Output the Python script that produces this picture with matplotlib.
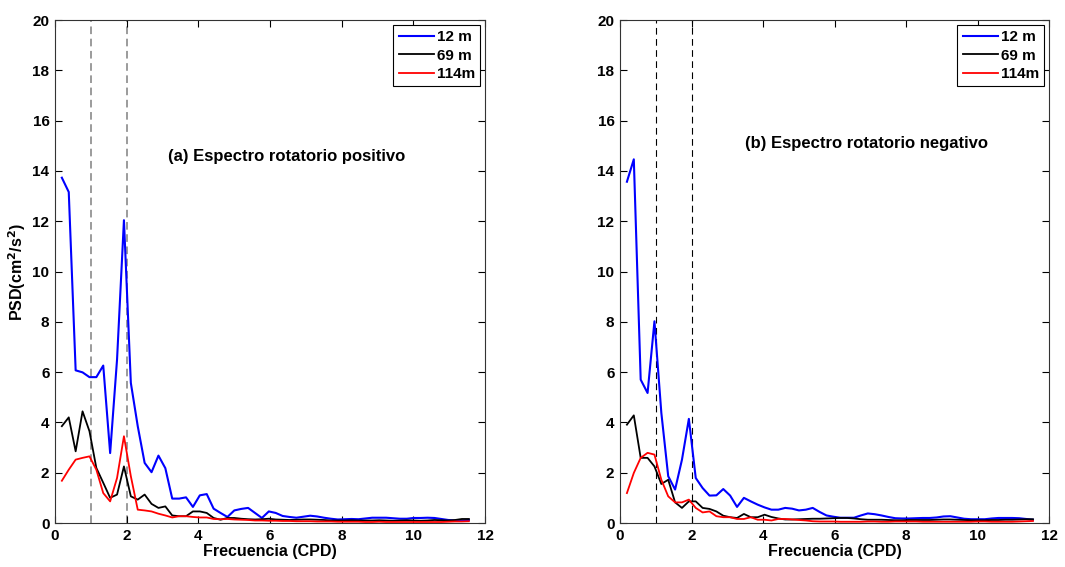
import numpy as np
import matplotlib
matplotlib.use("Agg")
import matplotlib.pyplot as plt

plt.rcParams["font.family"] = ["Liberation Sans", "DejaVu Sans"]
plt.rcParams["font.weight"] = "bold"
plt.rcParams["axes.labelweight"] = "bold"

# frequency grid (CPD), 60 spectral estimates
freq = np.arange(1, 61) * 0.1925

labels = ["12 m", "69 m", "114m"]
colors = ["#0000ff", "#000000", "#ff0000"]

# (a) positive rotary spectrum
pos_12 = [13.73, 13.16, 6.07, 5.99, 5.80, 5.80, 6.26, 2.78, 6.5, 12.04,
          5.57, 3.85, 2.39, 2.02, 2.68, 2.18, 0.97, 0.97, 1.02, 0.64,
          1.10, 1.15, 0.57, 0.40, 0.24, 0.50, 0.56, 0.60, 0.40, 0.20,
          0.46, 0.40, 0.28, 0.24, 0.21, 0.25, 0.29, 0.26, 0.21, 0.17,
          0.14, 0.15, 0.16, 0.15, 0.18, 0.21, 0.21, 0.21, 0.19, 0.17,
          0.17, 0.20, 0.20, 0.21, 0.20, 0.16, 0.12, 0.10, 0.10, 0.12]
pos_69 = [3.85, 4.20, 2.85, 4.44, 3.65, 2.19, 1.60, 1.00, 1.13, 2.25,
          1.06, 0.93, 1.13, 0.76, 0.60, 0.66, 0.30, 0.27, 0.27, 0.46,
          0.46, 0.40, 0.20, 0.13, 0.20, 0.20, 0.17, 0.15, 0.14, 0.15,
          0.17, 0.14, 0.13, 0.12, 0.13, 0.14, 0.14, 0.13, 0.12, 0.10,
          0.10, 0.10, 0.11, 0.10, 0.10, 0.10, 0.11, 0.10, 0.09, 0.10,
          0.11, 0.10, 0.09, 0.10, 0.12, 0.11, 0.10, 0.12, 0.16, 0.16]
pos_114 = [1.68, 2.12, 2.52, 2.59, 2.65, 2.12, 1.19, 0.86, 1.79, 3.45,
           1.86, 0.53, 0.50, 0.46, 0.37, 0.30, 0.22, 0.27, 0.27, 0.24,
           0.22, 0.22, 0.16, 0.15, 0.16, 0.14, 0.13, 0.12, 0.10, 0.10,
           0.09, 0.09, 0.08, 0.08, 0.07, 0.07, 0.07, 0.06, 0.06, 0.06,
           0.05, 0.05, 0.05, 0.05, 0.04, 0.04, 0.05, 0.04, 0.04, 0.04,
           0.04, 0.04, 0.04, 0.04, 0.04, 0.04, 0.05, 0.06, 0.06, 0.07]

# (b) negative rotary spectrum
neg_12 = [13.57, 14.46, 5.70, 5.17, 8.02, 4.38, 1.86, 1.33, 2.52, 4.14,
          1.79, 1.39, 1.09, 1.10, 1.35, 1.09, 0.64, 1.00, 0.86, 0.73,
          0.62, 0.53, 0.53, 0.60, 0.57, 0.50, 0.53, 0.60, 0.44, 0.30,
          0.25, 0.21, 0.21, 0.21, 0.30, 0.38, 0.35, 0.30, 0.24, 0.19,
          0.18, 0.18, 0.19, 0.20, 0.20, 0.22, 0.26, 0.27, 0.22, 0.17,
          0.15, 0.15, 0.15, 0.18, 0.20, 0.20, 0.20, 0.19, 0.16, 0.13]
neg_69 = [3.91, 4.28, 2.59, 2.59, 2.25, 1.55, 1.72, 0.82, 0.60, 0.86,
          0.86, 0.60, 0.56, 0.46, 0.29, 0.23, 0.20, 0.36, 0.23, 0.23,
          0.33, 0.24, 0.18, 0.14, 0.14, 0.15, 0.16, 0.17, 0.17, 0.18,
          0.19, 0.20, 0.20, 0.18, 0.15, 0.13, 0.13, 0.13, 0.12, 0.11,
          0.11, 0.12, 0.12, 0.12, 0.12, 0.13, 0.14, 0.14, 0.13, 0.12,
          0.11, 0.11, 0.11, 0.12, 0.12, 0.13, 0.13, 0.14, 0.15, 0.15]
neg_114 = [1.19, 1.99, 2.59, 2.79, 2.72, 1.72, 1.06, 0.82, 0.82, 0.93,
           0.60, 0.42, 0.46, 0.27, 0.23, 0.23, 0.16, 0.16, 0.23, 0.13,
           0.13, 0.10, 0.16, 0.16, 0.14, 0.12, 0.10, 0.07, 0.06, 0.06,
           0.06, 0.05, 0.05, 0.05, 0.05, 0.06, 0.06, 0.05, 0.05, 0.06,
           0.06, 0.06, 0.06, 0.05, 0.05, 0.05, 0.05, 0.05, 0.05, 0.05,
           0.05, 0.06, 0.06, 0.05, 0.05, 0.05, 0.05, 0.06, 0.07, 0.08]

fig = plt.figure(figsize=(10.65, 5.67), dpi=100)
ax_a = fig.add_axes([0.0516, 0.0776, 0.4038, 0.8871])
ax_b = fig.add_axes([0.5822, 0.0776, 0.4028, 0.8871])


def style_axes(ax):
    ax.set_xlim(0, 12)
    ax.set_ylim(0, 20)
    ax.set_xticks(np.arange(0, 13, 2))
    ax.set_yticks(np.arange(0, 21, 2))
    ax.tick_params(direction="in", top=True, right=True, length=5,
                   width=0.8, labelsize=11, pad=4)
    for lab in ax.get_xticklabels() + ax.get_yticklabels():
        lab.set_fontweight("bold")
    for sp in ax.spines.values():
        sp.set_linewidth(0.8)
        sp.set_color("#333333")
    ax.set_xlabel("Frecuencia (CPD)", fontsize=11.5, fontweight="bold", labelpad=1)


def draw(ax, series, title, tx, ty, dash_color, dash_style, dash_lw):
    ax.axvline(1, color=dash_color, linestyle=dash_style, linewidth=dash_lw, zorder=1)
    ax.axvline(2, color=dash_color, linestyle=dash_style, linewidth=dash_lw, zorder=1)
    for vals, lab, col, lw in zip(series, labels, colors, [1.5, 1.3, 1.3]):
        ax.plot(freq, vals, color=col, linewidth=lw, label=lab, zorder=3)
    ax.text(tx, ty, title, fontsize=12, fontweight="bold")
    leg = ax.legend(loc="upper right", fancybox=False, framealpha=1,
                    edgecolor="black", prop={"weight": "bold", "size": 11},
                    handlelength=2.3, handletextpad=0.2, borderpad=0.35,
                    labelspacing=0.3, borderaxespad=0.3)
    leg.get_frame().set_linewidth(0.8)
    style_axes(ax)


draw(ax_a, [pos_12, pos_69, pos_114], "(a) Espectro rotatorio positivo",
     3.15, 14.4, "#808080", (0, (5, 3)), 1.1)
draw(ax_b, [neg_12, neg_69, neg_114], "(b) Espectro rotatorio negativo",
     3.5, 14.9, "black", (0, (6, 4)), 0.8)

ax_a.set_ylabel("PSD(cm$^\\mathbf{2}$/s$^\\mathbf{2}$)", fontsize=11.5,
                fontweight="bold", labelpad=3)

fig.savefig("out.png", dpi=100, facecolor="white")
